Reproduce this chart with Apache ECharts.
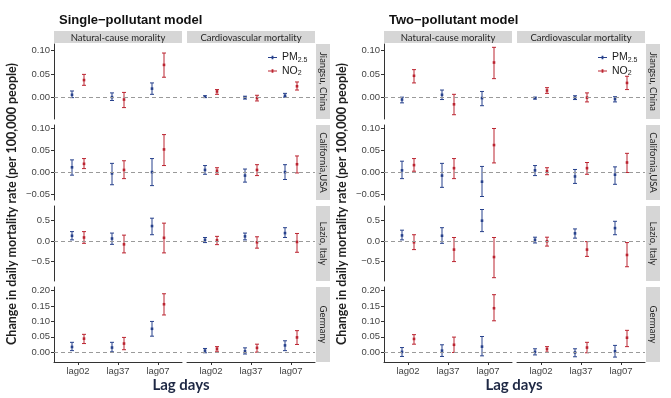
<!DOCTYPE html>
<html>
<head>
<meta charset="utf-8">
<script src="https://cdn.jsdelivr.net/npm/echarts@6/dist/echarts.min.js"></script>
<style>html,body{margin:0;background:#fff}#main{width:671px;height:398px}</style>
</head>
<body>
<div id="main"></div>
<script>
// categories
const models = ['Single\u2212pollutant model', 'Two\u2212pollutant model'];
const causes = ['Natural-cause morality', 'Cardiovascular mortality'];
const regions = ['Jiangsu, China', 'California,USA', 'Lazio, Italy', 'Germany'];
const lags = ['lag02', 'lag37', 'lag07'];

// y scale per region row + tick labels
const yMin = [-0.045, -0.064, -0.97, -0.032];
const yMax = [0.113, 0.108, 0.845, 0.212];
const yTicks = [[0, 0.05, 0.1], [-0.05, 0, 0.05, 0.1], [-0.5, 0, 0.5], [0, 0.05, 0.1, 0.15, 0.2]];

// each row = region; first 3 = natural-cause lag02/lag37/lag07, last 3 = cardiovascular
const singlePmEst = [
    [0.006, 0.001, 0.019, 0.002, 0.000, 0.004],
    [0.011, -0.003, 0.000, 0.005, -0.008, 0.000],
    [0.125, 0.058, 0.36, 0.025, 0.11, 0.19],
    [0.017, 0.015, 0.076, 0.005, 0.003, 0.022]
];
const singlePmLo = [
    [0.000, -0.006, 0.007, 0.000, -0.003, 0.001],
    [-0.007, -0.029, -0.031, -0.005, -0.023, -0.017],
    [0.025, -0.083, 0.15, -0.04, 0.025, 0.083],
    [0.005, 0.001, 0.052, -0.002, -0.006, 0.005]
];
const singlePmHi = [
    [0.014, 0.010, 0.031, 0.004, 0.003, 0.009],
    [0.028, 0.020, 0.031, 0.015, 0.007, 0.017],
    [0.225, 0.19, 0.55, 0.083, 0.19, 0.32],
    [0.032, 0.032, 0.100, 0.012, 0.014, 0.037]
];
const singleNo2Est = [
    [0.037, -0.004, 0.069, 0.013, -0.001, 0.024],
    [0.019, 0.005, 0.052, 0.003, 0.005, 0.018],
    [0.083, -0.083, 0.075, 0.017, -0.033, -0.025],
    [0.044, 0.028, 0.156, 0.011, 0.014, 0.048]
];
const singleNo2Lo = [
    [0.026, -0.021, 0.043, 0.007, -0.007, 0.016],
    [0.008, -0.015, 0.015, -0.005, -0.008, -0.002],
    [-0.058, -0.29, -0.29, -0.09, -0.175, -0.275],
    [0.028, 0.008, 0.121, 0.003, 0.000, 0.025]
];
const singleNo2Hi = [
    [0.049, 0.011, 0.094, 0.017, 0.005, 0.033],
    [0.031, 0.026, 0.086, 0.010, 0.017, 0.037],
    [0.225, 0.14, 0.43, 0.11, 0.10, 0.18],
    [0.058, 0.048, 0.190, 0.018, 0.026, 0.070]
];
const twoPmEst = [
    [-0.004, 0.006, -0.001, -0.001, 0.000, -0.003],
    [0.004, -0.008, -0.022, 0.004, -0.010, -0.006],
    [0.133, 0.125, 0.49, 0.025, 0.183, 0.31],
    [0.001, 0.005, 0.018, 0.001, -0.001, 0.003]
];
const twoPmLo = [
    [-0.011, -0.004, -0.017, -0.003, -0.004, -0.009],
    [-0.015, -0.035, -0.056, -0.008, -0.026, -0.028],
    [0.025, -0.058, 0.225, -0.05, 0.067, 0.15],
    [-0.014, -0.014, -0.012, -0.009, -0.015, -0.016]
];
const twoPmHi = [
    [0.001, 0.016, 0.013, 0.001, 0.004, 0.002],
    [0.025, 0.020, 0.013, 0.015, 0.006, 0.012],
    [0.26, 0.32, 0.76, 0.09, 0.29, 0.475],
    [0.015, 0.024, 0.051, 0.011, 0.011, 0.022]
];
const twoNo2Est = [
    [0.046, -0.014, 0.074, 0.015, 0.000, 0.031],
    [0.016, 0.009, 0.062, 0.002, 0.009, 0.022],
    [-0.033, -0.21, -0.39, -0.008, -0.21, -0.34],
    [0.043, 0.024, 0.143, 0.010, 0.015, 0.047]
];
const twoNo2Lo = [
    [0.031, -0.036, 0.040, 0.009, -0.009, 0.017],
    [0.002, -0.015, 0.021, -0.006, -0.005, -0.001],
    [-0.21, -0.5, -0.89, -0.125, -0.375, -0.625],
    [0.026, -0.001, 0.102, 0.000, -0.002, 0.018]
];
const twoNo2Hi = [
    [0.059, 0.007, 0.106, 0.021, 0.010, 0.045],
    [0.031, 0.031, 0.100, 0.010, 0.022, 0.043],
    [0.15, 0.083, 0.083, 0.09, -0.017, -0.04],
    [0.057, 0.049, 0.187, 0.018, 0.032, 0.071]
];

const pmColor = '#27418c';
const no2Color = '#bb2430';
const stripColor = '#d6d6d6';

const pollutants = [
    { name: 'PM2.5', color: pmColor, dodge: -6,
      est: [singlePmEst, twoPmEst], lo: [singlePmLo, twoPmLo], hi: [singlePmHi, twoPmHi] },
    { name: 'NO2', color: no2Color, dodge: 6,
      est: [singleNo2Est, twoNo2Est], lo: [singleNo2Lo, twoNo2Lo], hi: [singleNo2Hi, twoNo2Hi] }
];

// layout
const panelLeft = [54, 384];
const colW = 128, colGap = 5;
const rowTop = [44, 125, 206, 287];
const rowH = 75;

function fmtTick(r) {
    return v => (r === 2 ? v.toFixed(1) : v.toFixed(2)).replace('-', '\u2212');
}

function errorBar(color, dodge) {
    return function (params, api) {
        const x = api.value(0);
        const p = api.coord([x, api.value(1)]);
        const lo = api.coord([x, api.value(2)]);
        const hi = api.coord([x, api.value(3)]);
        const cx = p[0] + dodge;
        const st = { stroke: color, lineWidth: 1 };
        return {
            type: 'group',
            children: [
                { type: 'line', shape: { x1: cx, y1: lo[1], x2: cx, y2: hi[1] }, style: st },
                { type: 'line', shape: { x1: cx - 2, y1: lo[1], x2: cx + 2, y2: lo[1] }, style: st },
                { type: 'line', shape: { x1: cx - 2, y1: hi[1], x2: cx + 2, y2: hi[1] }, style: st },
                { type: 'rect', shape: { x: cx - 1.3, y: p[1] - 1.3, width: 2.6, height: 2.6 }, style: { fill: color } }
            ]
        };
    };
}

const grid = [], xAxis = [], yAxis = [], series = [], graphic = [];
const tickLabel = { color: '#444', fontSize: 9.5, fontFamily: 'Liberation Sans' };

for (let p = 0; p < 2; p++) {
    for (let r = 0; r < 4; r++) {
        for (let c = 0; c < 2; c++) {
            const idx = grid.length;
            const left = panelLeft[p] + c * (colW + colGap);
            grid.push({ left: left, top: rowTop[r], width: colW, height: rowH });
            xAxis.push({
                gridIndex: idx, type: 'value', min: 0.4, max: 3.6,
                axisLine: { show: r === 3, onZero: false, lineStyle: { color: '#333', width: 1 } },
                axisTick: { show: r === 3, customValues: [1, 2, 3], length: 3, lineStyle: { color: '#333' } },
                axisLabel: Object.assign({ show: r === 3, customValues: [1, 2, 3], margin: 4,
                    formatter: v => lags[Math.round(v) - 1] }, tickLabel),
                splitLine: { show: false }
            });
            yAxis.push({
                gridIndex: idx, type: 'value', min: yMin[r], max: yMax[r],
                axisLine: { show: c === 0, onZero: false, lineStyle: { color: '#333', width: 1 } },
                axisTick: { show: c === 0, customValues: yTicks[r], length: 3, lineStyle: { color: '#333' } },
                axisLabel: Object.assign({ show: c === 0, customValues: yTicks[r], margin: 4,
                    formatter: fmtTick(r) }, tickLabel),
                splitLine: { show: false }
            });
            pollutants.forEach((pol, k) => {
                const s = {
                    type: 'custom', name: pol.name,
                    xAxisIndex: idx, yAxisIndex: idx,
                    itemStyle: { color: pol.color },
                    renderItem: errorBar(pol.color, pol.dodge),
                    encode: { x: 0, y: [1, 2, 3] },
                    silent: true,
                    data: lags.map((l, i) => [i + 1,
                        pol.est[p][r][c * 3 + i], pol.lo[p][r][c * 3 + i], pol.hi[p][r][c * 3 + i]])
                };
                if (k === 0) {
                    s.markLine = {
                        silent: true, symbol: 'none', label: { show: false },
                        lineStyle: { color: '#9a9a9a', type: [4, 3], width: 1 },
                        data: [{ yAxis: 0 }]
                    };
                }
                series.push(s);
            });
            // column strips
            if (r === 0) {
                graphic.push({ type: 'rect', shape: { x: left, y: 31, width: colW, height: 12 }, style: { fill: stripColor }, silent: true });
                graphic.push({ type: 'text', x: left + colW / 2, y: 37.5,
                    style: { text: causes[c], fill: '#262626', font: '9.5px Lato', textAlign: 'center', textVerticalAlign: 'middle' } });
            }
        }
        // row strips
        const sx = panelLeft[p] + 2 * colW + colGap + 1;
        graphic.push({ type: 'rect', shape: { x: sx, y: rowTop[r], width: 14, height: rowH }, style: { fill: stripColor }, silent: true });
        graphic.push({ type: 'text', x: sx + 7, y: rowTop[r] + rowH / 2, rotation: -Math.PI / 2,
            style: { text: regions[r], fill: '#262626', font: '9.5px Lato', textAlign: 'center', textVerticalAlign: 'middle' } });
    }
    // axis titles
    graphic.push({ type: 'text', x: panelLeft[p] - 42, y: 204, rotation: Math.PI / 2,
        style: { text: 'Change in daily mortality rate (per 100,000 people)', fill: '#1f1f1f',
            font: 'bold 12.5px Lato', textAlign: 'center', textVerticalAlign: 'middle' } });
    graphic.push({ type: 'text', x: panelLeft[p] + colW + 2 - (p === 0 ? 3 : 0), y: 385,
        style: { text: 'Lag days', fill: '#1e2844', font: 'bold 15px Lato', textAlign: 'center', textVerticalAlign: 'middle' } });
}

const legendBase = {
    orient: 'vertical', top: 47, itemGap: 2, itemWidth: 9, itemHeight: 4,
    icon: 'path://M0,1.5H10V2.5H0Z M4,0H6V4H4Z',
    selectedMode: false,
    data: [{ name: 'PM2.5', itemStyle: { color: pmColor } }, { name: 'NO2', itemStyle: { color: no2Color } }],
    formatter: n => n === 'PM2.5' ? '{m|PM}{s|2.5}' : '{m|NO}{s|2}',
    textStyle: {
        rich: {
            m: { fontSize: 10.5, color: '#1a1a1a', fontFamily: 'Liberation Sans' },
            s: { fontSize: 7, color: '#1a1a1a', fontFamily: 'Liberation Sans', padding: [5, 0, 0, 0] }
        }
    }
};

const option = {
    animation: false,
    backgroundColor: '#fff',
    title: models.map((m, p) => ({
        text: m, left: panelLeft[p], top: 9,
        textStyle: { fontSize: 13, fontWeight: 'bold', color: '#111', fontFamily: 'Liberation Sans' }
    })),
    legend: [Object.assign({ left: 263 }, legendBase), Object.assign({ left: 593 }, legendBase)],
    grid: grid,
    xAxis: xAxis,
    yAxis: yAxis,
    series: series,
    graphic: graphic
};

const chart = echarts.init(document.getElementById('main'));
chart.setOption(option);
</script>
</body>
</html>
